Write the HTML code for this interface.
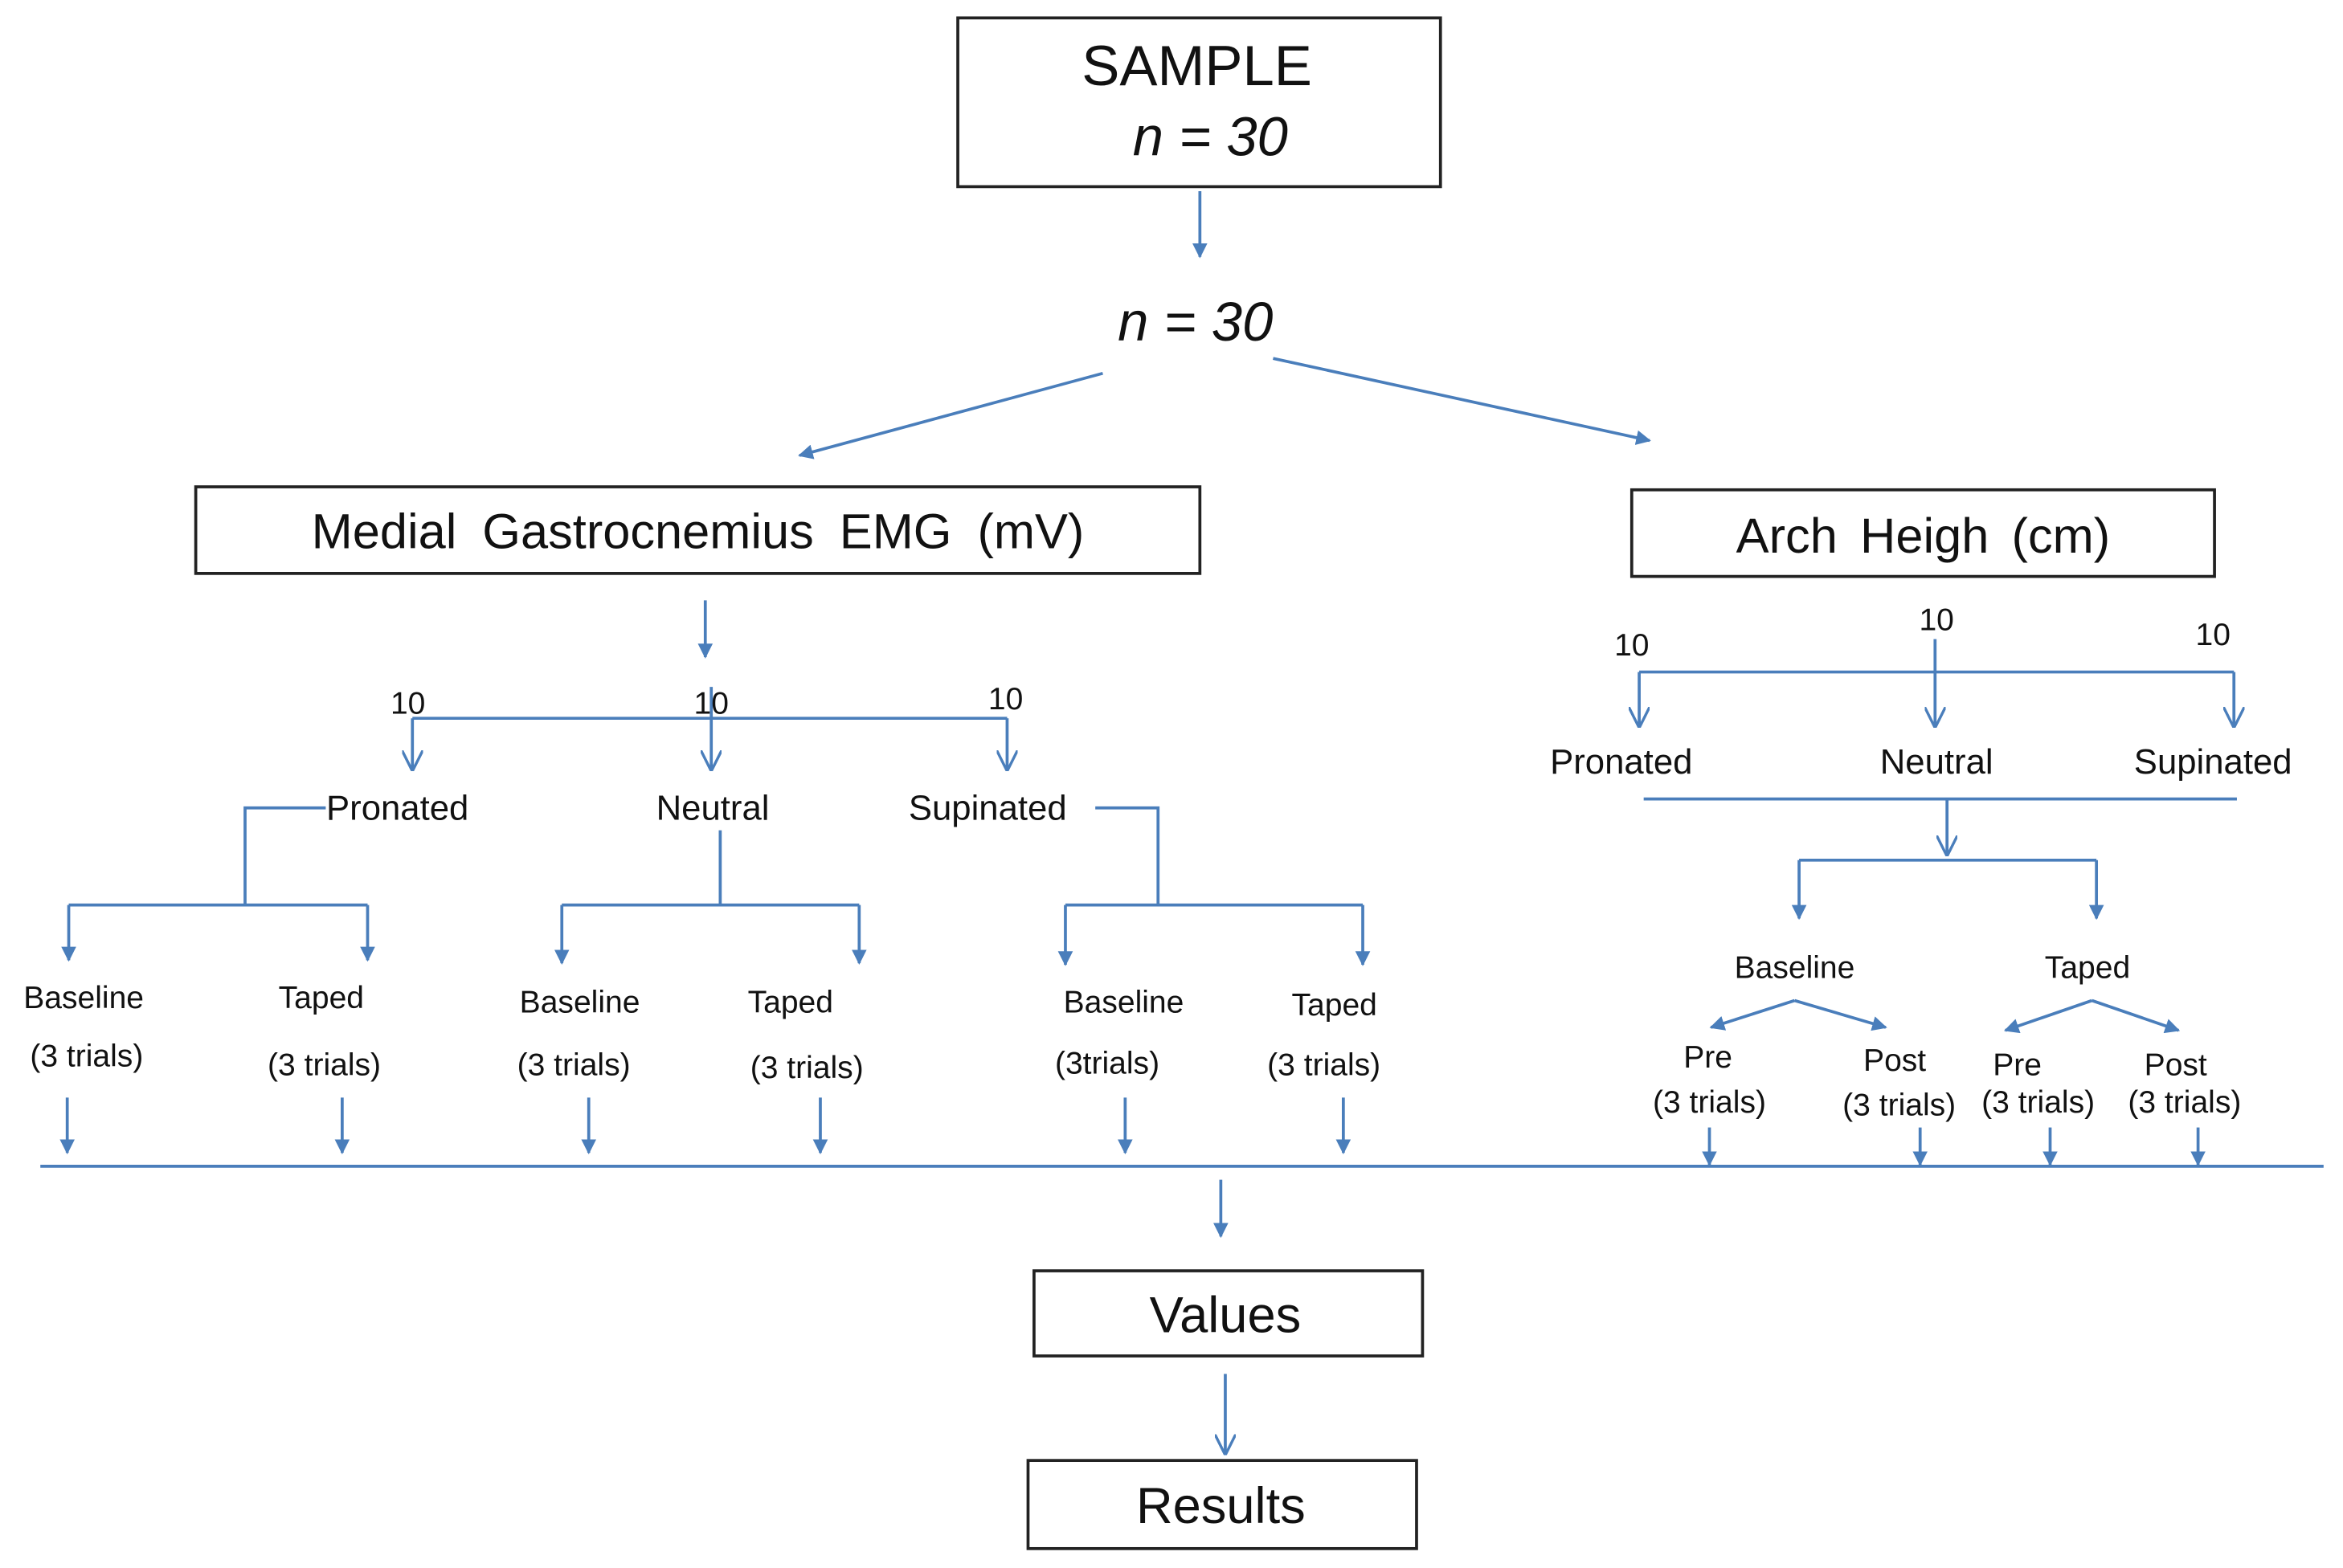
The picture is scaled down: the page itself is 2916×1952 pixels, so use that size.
<!DOCTYPE html>
<html><head><meta charset="utf-8"><style>
html,body{margin:0;padding:0;background:#fff;}
svg{display:block;}
text{font-family:"Liberation Sans",sans-serif;fill:#111;text-anchor:middle;}
</style></head><body>
<svg width="2916" height="1952" viewBox="0 0 1568 1050" preserveAspectRatio="none" xmlns="http://www.w3.org/2000/svg">
<defs>
<marker id="f" viewBox="0 0 10 10" refX="9" refY="5" markerWidth="5" markerHeight="5" orient="auto"><path d="M0,0 L10,5 L0,10 z" fill="#4a7ebb"/></marker>
<marker id="o" viewBox="0 0 10 10" refX="9" refY="5" markerWidth="7" markerHeight="7" orient="auto"><path d="M0,0 L10,5 L0,10" fill="none" stroke="#4a7ebb" stroke-width="1.3"/></marker>
</defs>
<g fill="none" stroke="#222" stroke-width="2">
<rect x="641" y="12" width="323" height="113"/>
<rect x="131" y="326" width="672" height="58"/>
<rect x="1092" y="328" width="390" height="58"/>
<rect x="692" y="851" width="260" height="57"/>
<rect x="688" y="978" width="260" height="59"/>
</g>
<g stroke="#4a7ebb" stroke-width="2" fill="none">
<line x1="803" y1="128" x2="803" y2="172" marker-end="url(#f)"/>
<line x1="738" y1="250" x2="535" y2="305" marker-end="url(#f)"/>
<line x1="852" y1="240" x2="1104" y2="295" marker-end="url(#f)"/>
<line x1="472" y1="402" x2="472" y2="440" marker-end="url(#f)"/>
<line x1="276" y1="481" x2="674" y2="481"/>
<line x1="276" y1="481" x2="276" y2="515" marker-end="url(#o)"/>
<line x1="476" y1="460" x2="476" y2="515" marker-end="url(#o)"/>
<line x1="674" y1="481" x2="674" y2="515" marker-end="url(#o)"/>
<polyline points="218,541 164,541 164,606"/>
<line x1="46" y1="606" x2="246" y2="606"/>
<line x1="46" y1="606" x2="46" y2="643" marker-end="url(#f)"/>
<line x1="246" y1="606" x2="246" y2="643" marker-end="url(#f)"/>
<line x1="482" y1="556" x2="482" y2="606"/>
<line x1="376" y1="606" x2="575" y2="606"/>
<line x1="376" y1="606" x2="376" y2="645" marker-end="url(#f)"/>
<line x1="575" y1="606" x2="575" y2="645" marker-end="url(#f)"/>
<polyline points="733,541 775,541 775,606"/>
<line x1="713" y1="606" x2="912" y2="606"/>
<line x1="713" y1="606" x2="713" y2="646" marker-end="url(#f)"/>
<line x1="912" y1="606" x2="912" y2="646" marker-end="url(#f)"/>
<line x1="45" y1="735" x2="45" y2="772" marker-end="url(#f)"/>
<line x1="229" y1="735" x2="229" y2="772" marker-end="url(#f)"/>
<line x1="394" y1="735" x2="394" y2="772" marker-end="url(#f)"/>
<line x1="549" y1="735" x2="549" y2="772" marker-end="url(#f)"/>
<line x1="753" y1="735" x2="753" y2="772" marker-end="url(#f)"/>
<line x1="899" y1="735" x2="899" y2="772" marker-end="url(#f)"/>
<line x1="27" y1="781" x2="1555" y2="781"/>
<line x1="1144" y1="755" x2="1144" y2="780" marker-end="url(#f)"/>
<line x1="1285" y1="755" x2="1285" y2="780" marker-end="url(#f)"/>
<line x1="1372" y1="755" x2="1372" y2="780" marker-end="url(#f)"/>
<line x1="1471" y1="755" x2="1471" y2="780" marker-end="url(#f)"/>
<line x1="817" y1="790" x2="817" y2="828" marker-end="url(#f)"/>
<line x1="820" y1="920" x2="820" y2="973" marker-end="url(#o)"/>
<line x1="1097" y1="450" x2="1495" y2="450"/>
<line x1="1097" y1="450" x2="1097" y2="486" marker-end="url(#o)"/>
<line x1="1295" y1="428" x2="1295" y2="486" marker-end="url(#o)"/>
<line x1="1495" y1="450" x2="1495" y2="486" marker-end="url(#o)"/>
<line x1="1100" y1="535" x2="1497" y2="535"/>
<line x1="1303" y1="535" x2="1303" y2="572" marker-end="url(#o)"/>
<line x1="1204" y1="576" x2="1403" y2="576"/>
<line x1="1204" y1="576" x2="1204" y2="615" marker-end="url(#f)"/>
<line x1="1403" y1="576" x2="1403" y2="615" marker-end="url(#f)"/>
<line x1="1201" y1="670" x2="1145" y2="688" marker-end="url(#f)"/>
<line x1="1201" y1="670" x2="1262" y2="688" marker-end="url(#f)"/>
<line x1="1400" y1="670" x2="1342" y2="690" marker-end="url(#f)"/>
<line x1="1400" y1="670" x2="1458" y2="690" marker-end="url(#f)"/>
</g>
<text x="801" y="57" font-size="38">SAMPLE</text>
<text x="810" y="104" font-size="37" font-style="italic">n = 30</text>
<text x="800" y="228" font-size="37" font-style="italic">n = 30</text>
<text x="467" y="367" font-size="33" word-spacing="8">Medial Gastrocnemius EMG (mV)</text>
<text x="1287" y="370" font-size="33" word-spacing="6">Arch Heigh (cm)</text>
<text x="820" y="892" font-size="34">Values</text>
<text x="817" y="1020" font-size="34">Results</text>
<g font-size="21">
<text x="273" y="478">10</text><text x="476" y="478">10</text><text x="673" y="475">10</text>
<text x="1092" y="439">10</text><text x="1296" y="422">10</text><text x="1481" y="432">10</text>
</g>
<g font-size="23.5">
<text x="266" y="549">Pronated</text><text x="477" y="549">Neutral</text><text x="661" y="549">Supinated</text>
<text x="1085" y="518">Pronated</text><text x="1296" y="518">Neutral</text><text x="1481" y="518">Supinated</text>
</g>
<g font-size="21">
<text x="56" y="675">Baseline</text><text x="58" y="714">(3 trials)</text>
<text x="215" y="675">Taped</text><text x="217" y="720">(3 trials)</text>
<text x="388" y="678">Baseline</text><text x="384" y="720">(3 trials)</text>
<text x="529" y="678">Taped</text><text x="540" y="722">(3 trials)</text>
<text x="752" y="678">Baseline</text><text x="741" y="719">(3trials)</text>
<text x="893" y="680">Taped</text><text x="886" y="720">(3 trials)</text>
<text x="1201" y="655">Baseline</text><text x="1397" y="655">Taped</text>
<text x="1143" y="715">Pre</text><text x="1144" y="745">(3 trials)</text>
<text x="1268" y="717">Post</text><text x="1271" y="747">(3 trials)</text>
<text x="1350" y="720">Pre</text><text x="1364" y="745">(3 trials)</text>
<text x="1456" y="720">Post</text><text x="1462" y="745">(3 trials)</text>
</g>
</svg>
</body></html>
